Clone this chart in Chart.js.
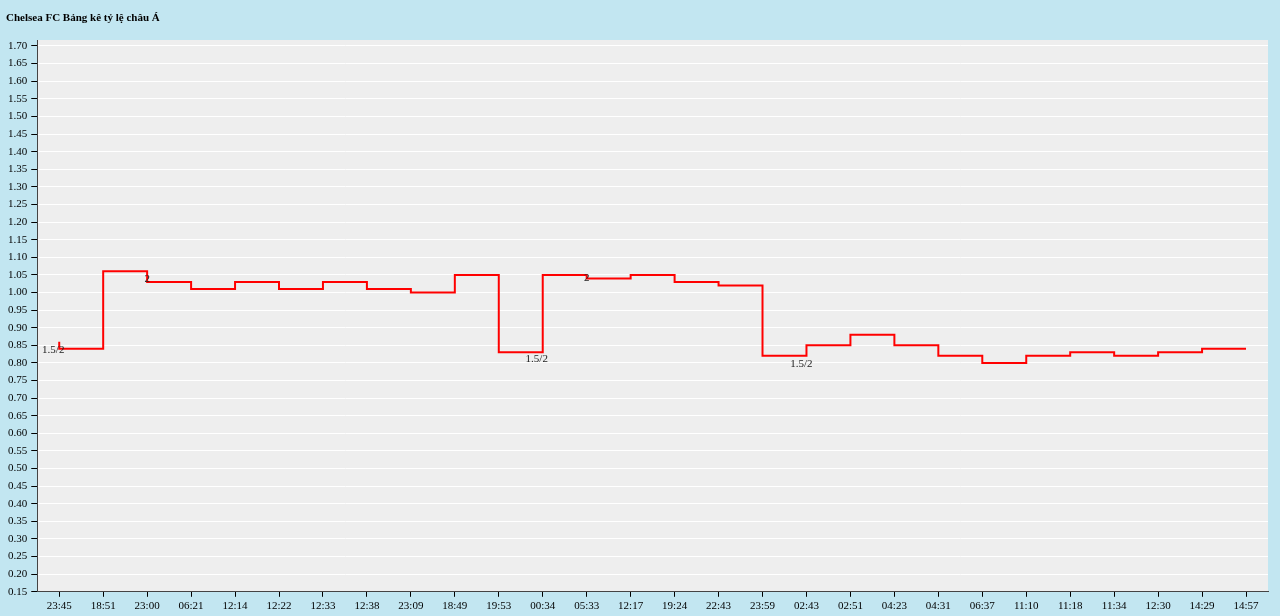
<!DOCTYPE html>
<html>
<head>
<meta charset="utf-8">
<script src="https://cdn.jsdelivr.net/npm/chart.js@4"></script>
<style>
  html, body { margin: 0; padding: 0; background: #c2e6f1; }
  #wrap { width: 1280px; height: 616px; position: relative; }
</style>
</head>
<body>
<div id="wrap"><canvas id="chart" width="1280" height="616"></canvas></div>
<script>
const title = "Chelsea FC Bảng kê tỷ lệ châu Á";
const times = ["23:45","18:51","23:00","06:21","12:14","12:22","12:33","12:38","23:09","18:49",
  "19:53","00:34","05:33","12:17","19:24","22:43","23:59","02:43","02:51","04:23",
  "04:31","06:37","11:10","11:18","11:34","12:30","14:29","14:57"];
const odds = [0.86,0.84,1.06,1.03,1.01,1.03,1.01,1.03,1.01,1.00,
  1.05,0.83,1.05,1.04,1.05,1.03,1.02,0.82,0.85,0.88,
  0.85,0.82,0.80,0.82,0.83,0.82,0.83,0.84];
const yTicks = [];
for (let v = 15; v <= 170; v += 5) yTicks.push(v / 100);
const handicapIdx = [0, 2, 11, 12, 17];
const handicapText = ["1.5/2", "2", "1.5/2", "2", "1.5/2"];

// label offsets relative to the point (px)
const labelOffset = [[-6, 1], [0, -3], [-6, 7], [0, 3], [-5, 8]];

const bgPlugin = {
  id: 'bg',
  beforeDraw(chart) {
    const { ctx, chartArea: a } = chart;
    ctx.save();
    ctx.fillStyle = '#eeeeee';
    ctx.fillRect(a.left, a.top, a.right - a.left, a.bottom - a.top);
    ctx.font = 'bold 11px "Liberation Serif"';
    ctx.fillStyle = '#000';
    ctx.textBaseline = 'middle';
    ctx.fillText(title, 6, 18);
    ctx.restore();
  },
  afterDatasetsDraw(chart) {
    const { ctx, scales } = chart;
    ctx.save();
    ctx.font = '11px "Liberation Serif"';
    ctx.fillStyle = '#222';
    ctx.textAlign = 'center';
    ctx.textBaseline = 'middle';
    handicapIdx.forEach((idx, k) => {
      const x = scales.x.getPixelForValue(idx);
      const y = scales.y.getPixelForValue(odds[idx === 0 ? 1 : idx === 2 ? 3 : idx]);
      ctx.fillText(handicapText[k], x + labelOffset[k][0], y + labelOffset[k][1]);
    });
    ctx.restore();
  }
};

new Chart(document.getElementById('chart'), {
  type: 'line',
  data: {
    labels: times,
    datasets: [{
      data: odds,
      borderColor: '#ff0000',
      borderWidth: 2,
      stepped: 'after',
      pointRadius: 0,
      fill: false
    }]
  },
  options: {
    responsive: false,
    animation: false,
    devicePixelRatio: 1,
    layout: { padding: { top: 40, right: 12, left: 4, bottom: 0 } },
    plugins: { legend: { display: false }, title: { display: false }, tooltip: { enabled: false } },
    scales: {
      x: {
        offset: true,
        grid: { drawOnChartArea: false, color: '#000', tickColor: '#000', tickLength: 5, offset: false },
        border: { color: '#444', width: 1 },
        ticks: { color: '#000', font: { family: 'Liberation Serif', size: 11 }, maxRotation: 0, autoSkip: false, padding: 3 }
      },
      y: {
        min: 0.15, max: 1.717,
        afterBuildTicks(scale) { scale.ticks = yTicks.map(v => ({ value: v })); },
        grid: { color: '#ffffff', lineWidth: 1, tickColor: '#000', tickLength: 6 },
        border: { color: '#444', width: 1 },
        ticks: { color: '#000', font: { family: 'Liberation Serif', size: 11 }, padding: 4,
          callback: v => v.toFixed(2) }
      }
    }
  },
  plugins: [bgPlugin]
});
</script>
</body>
</html>
